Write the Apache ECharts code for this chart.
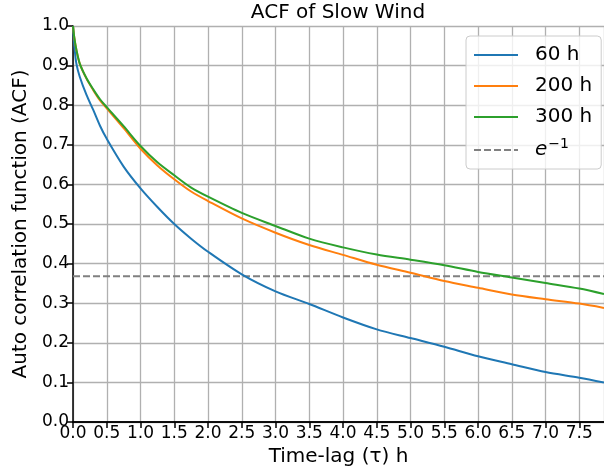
<!DOCTYPE html>
<html>
<head>
<meta charset="utf-8">
<script src="https://cdn.jsdelivr.net/npm/echarts@6/dist/echarts.min.js"></script>
<style>
html,body{margin:0;padding:0;background:#fff;}
#chart{width:604px;height:474px;}
</style>
</head>
<body>
<div id="chart"></div>
<script>
// lag in hours
var lagHours = [0, 0.02, 0.05, 0.1, 0.2, 0.3, 0.4, 0.5, 0.75, 1.0, 1.25, 1.5, 1.75, 2.0, 2.5, 3.0, 3.5, 4.0, 4.5, 5.0, 5.5, 6.0, 6.5, 7.0, 7.5, 7.866];
var acf60  = [1.0, 0.95, 0.905, 0.872, 0.826, 0.788, 0.748, 0.715, 0.645, 0.59, 0.543, 0.50, 0.463, 0.43, 0.373, 0.33, 0.298, 0.264, 0.234, 0.212, 0.19, 0.166, 0.146, 0.126, 0.112, 0.10];
var acf200 = [1.0, 0.97, 0.94, 0.905, 0.867, 0.838, 0.812, 0.792, 0.742, 0.69, 0.648, 0.613, 0.582, 0.558, 0.514, 0.478, 0.447, 0.422, 0.397, 0.377, 0.356, 0.339, 0.322, 0.31, 0.299, 0.288];
var acf300 = [1.0, 0.97, 0.94, 0.905, 0.868, 0.84, 0.815, 0.795, 0.747, 0.697, 0.656, 0.623, 0.592, 0.569, 0.528, 0.495, 0.463, 0.441, 0.423, 0.41, 0.396, 0.379, 0.365, 0.351, 0.337, 0.323];
var eInvLevel = 0.3679;
var seriesNames = ['60 h', '200 h', '300 h', 'e^-1'];
var xMin = 0, xMax = 7.866, xStep = 0.5;
var yMin = 0, yMax = 1, yStep = 0.1;

function pairs(xs, ys) { return xs.map(function (x, i) { return [x, ys[i]]; }); }

var FONT = 'DejaVu Sans';
var chart = echarts.init(document.getElementById('chart'), null, {renderer: 'canvas'});
var lineW = 2;
var option = {
  animation: false,
  backgroundColor: '#ffffff',
  textStyle: {fontFamily: FONT, color: '#000'},
  title: {
    text: 'ACF of Slow Wind',
    left: 338, top: 3, textAlign: 'center', padding: 0,
    textStyle: {fontFamily: FONT, fontSize: 20, fontWeight: 'normal', color: '#000'}
  },
  grid: {left: 73, top: 26, right: 0, bottom: 52, containLabel: false},
  legend: {
    orient: 'vertical',
    left: 466, top: 36,
    padding: [8, 9, 8, 7],
    itemWidth: 44, itemHeight: 14, itemGap: 9,
    backgroundColor: 'rgba(255,255,255,0.8)',
    borderColor: '#cccccc', borderWidth: 1, borderRadius: 4,
    itemStyle: {opacity: 0},
    data: seriesNames,
    formatter: function (name) {
      if (name === 'e^-1') return '{e|e}{s|−1}';
      return name;
    },
    textStyle: {
      fontFamily: FONT, fontSize: 20, color: '#000', lineHeight: 22,
      padding: [0, 0, 0, 12],
      rich: {
        e: {fontFamily: FONT, fontSize: 20, fontStyle: 'italic', color: '#000'},
        s: {fontFamily: FONT, fontSize: 14, color: '#000', padding: [0, 0, 12, 1]}
      }
    }
  },
  xAxis: [{
    type: 'value', min: xMin, max: xMax, interval: xStep,
    name: 'Time-lag (τ) h', nameLocation: 'middle', nameGap: 25,
    nameTextStyle: {fontFamily: FONT, fontSize: 20, color: '#000'},
    axisLine: {show: true, onZero: false, lineStyle: {color: '#000', width: 1.5}},
    axisTick: {show: true, length: 6, lineStyle: {color: '#000', width: 1.5}},
    axisLabel: {fontFamily: FONT, fontSize: 17, color: '#000', margin: 3, showMaxLabel: false,
      formatter: function (v) { return v.toFixed(1); }},
    splitLine: {show: true, lineStyle: {color: '#b0b0b0', width: 1.3}}
  }, {
    type: 'value', position: 'top', min: xMin, max: xMax,
    axisLine: {show: true, lineStyle: {color: '#000', width: 1.5}},
    axisTick: {show: false}, axisLabel: {show: false}, splitLine: {show: false}
  }],
  yAxis: {
    type: 'value', min: yMin, max: yMax, interval: yStep,
    name: 'Auto correlation function (ACF)', nameLocation: 'middle', nameGap: 42,
    nameTextStyle: {fontFamily: FONT, fontSize: 20, color: '#000'},
    axisLine: {show: true, lineStyle: {color: '#000', width: 1.5}},
    axisTick: {show: true, length: 6, lineStyle: {color: '#000', width: 1.5}},
    axisLabel: {fontFamily: FONT, fontSize: 17, color: '#000', margin: 4,
      formatter: function (v) { return v.toFixed(1); }},
    splitLine: {show: true, lineStyle: {color: '#b0b0b0', width: 1.3}}
  },
  series: [
    {name: seriesNames[0], type: 'line', data: pairs(lagHours, acf60), symbol: 'none', smooth: 0.3,
      lineStyle: {color: '#1f77b4', width: lineW}, itemStyle: {color: '#1f77b4'}, z: 3},
    {name: seriesNames[1], type: 'line', data: pairs(lagHours, acf200), symbol: 'none', smooth: 0.3,
      lineStyle: {color: '#ff7f0e', width: lineW}, itemStyle: {color: '#ff7f0e'}, z: 4},
    {name: seriesNames[2], type: 'line', data: pairs(lagHours, acf300), symbol: 'none', smooth: 0.3,
      lineStyle: {color: '#2ca02c', width: lineW}, itemStyle: {color: '#2ca02c'}, z: 5},
    {name: seriesNames[3], type: 'line', data: [[xMin, eInvLevel], [xMax, eInvLevel]], symbol: 'none',
      lineStyle: {color: '#808080', width: lineW, type: [7, 3]}, itemStyle: {color: '#808080'}, z: 2}
  ]
};
chart.setOption(option);
</script>
</body>
</html>
